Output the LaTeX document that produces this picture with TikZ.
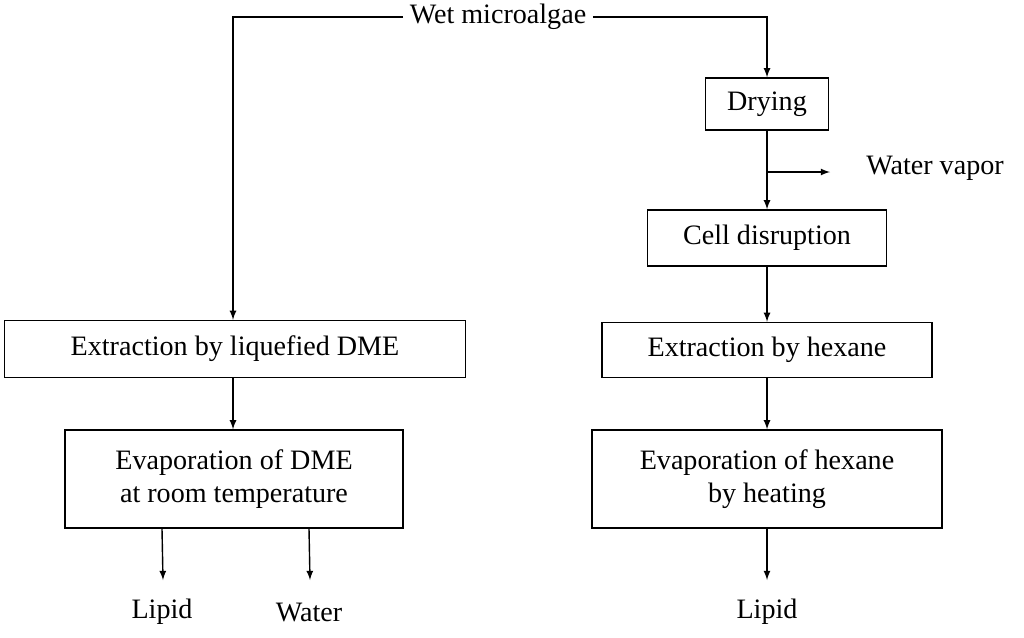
\documentclass[tikz,border=0pt]{standalone}
\usepackage{fontspec}
\setmainfont{Liberation Serif}
\usetikzlibrary{arrows}

\begin{document}
\begin{tikzpicture}[x=0.02cm, y=-0.02cm, line width=0.8pt, >=latex,
		font=\fontsize{16}{19}\selectfont,
		box/.style={draw, inner sep=0pt, align=center}]
		\useasboundingbox (0,0) rectangle (1024,637);

		% Source
		\node (wet) at (498,17) {Wet microalgae};

		% Right branch
		\node[box, minimum width=123\pgflinewidth*0+2.46cm, minimum height=1.04cm] (dry) at (767,104) {Drying};
		\node[box, minimum width=4.78cm, minimum height=1.12cm] (disrupt) at (767,238) {Cell disruption};
		\node[box, minimum width=6.6cm, minimum height=1.1cm] (hexext) at (767,350) {Extraction by hexane};
		\node[box, minimum width=7cm, minimum height=1.96cm] (hexevap) at (767,479) {Evaporation of hexane\\by heating};
		\node (lipidR) at (767,612) {Lipid};
		\node (vapor) at (935,168) {Water vapor};

		% Left branch
		\node[box, minimum width=9.22cm, minimum height=1.14cm] (dmeext) at (235,349) {Extraction by liquefied DME};
		\node[box, minimum width=6.76cm, minimum height=1.96cm] (dmeevap) at (234,479) {Evaporation of DME\\at room temperature};
		\node (lipidL) at (162,612) {Lipid};
		\node (water) at (309,612) {Water};

		% Connectors
		\draw[->] (wet.west) -- (233,17) -- (dmeext.north -| 233,0);
		\draw[->] (wet.east) -- (767,17) -- (dry.north);
		\draw[->] (dry) -- (disrupt);
		\coordinate (vap) at (767,172);
		\draw[->] (vap) -- (830,172);
		\draw[->] (disrupt) -- (hexext);
		\draw[->] (hexext) -- (hexevap);
		\draw[->] (hexevap.south) -- (767,580);
		\draw[->] (dmeext.south -| 233,0) -- (dmeevap.north -| 233,0);
		\draw[->] (dmeevap.south -| lipidL) -- (163,580);
		\draw[->] (dmeevap.south -| water) -- (310,580);
\end{tikzpicture}
\end{document}
